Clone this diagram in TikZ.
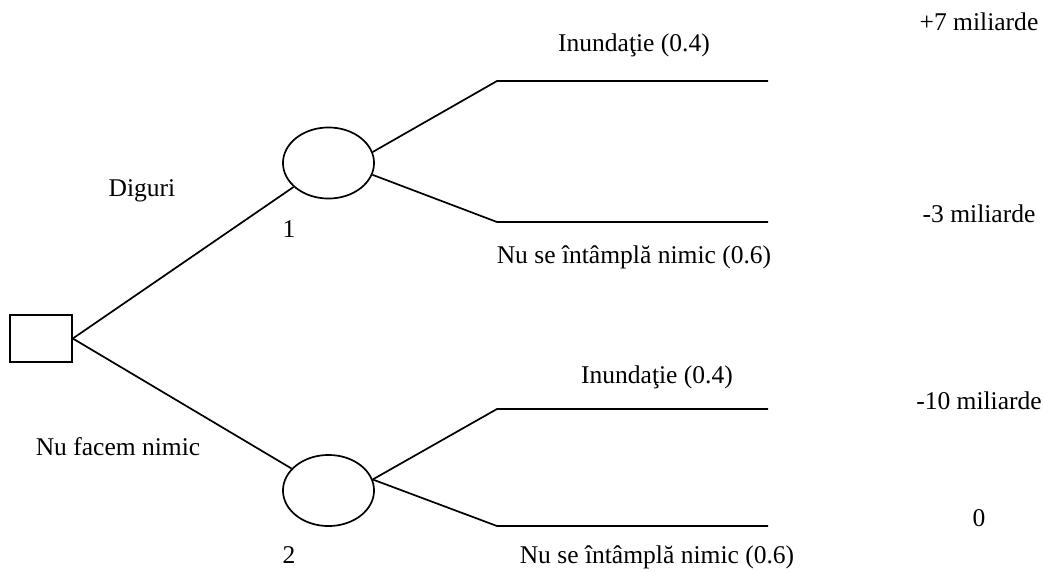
\documentclass[tikz,border=0pt]{standalone}
\usepackage{fontspec}
\setmainfont{Liberation Serif}
\usetikzlibrary{shapes.geometric}

\begin{document}
\begin{tikzpicture}[x=0.47pt, y=-0.47pt, line width=0.8pt,
    every node/.style={font=\fontsize{12}{14}\selectfont, inner sep=0pt},
    decision/.style={draw, rectangle, minimum width=29.1pt, minimum height=22.1pt},
    chance/.style={draw, ellipse, minimum width=42.8pt, minimum height=33.4pt}]

        \useasboundingbox (0,0) rectangle (1044,571);

        % decision and chance nodes
        \node[decision] (dec) at (41,338.5) {};
        \node[chance] (c1) at (328.5,163) {};
        \node[chance] (c2) at (328.5,490.5) {};

        % corners and ends of the branches
        \coordinate (b1) at (497,81);
        \coordinate (e1) at (768,81);
        \coordinate (b2) at (497,222);
        \coordinate (e2) at (768,222);
        \coordinate (b3) at (497,409);
        \coordinate (e3) at (768,409);
        \coordinate (b4) at (497,526);
        \coordinate (e4) at (768,526);

        \draw (dec.east) -- (c1);
        \draw (dec.east) -- (c2);

        \draw (c1.14) -- (b1) -- (e1);
        \draw (c1.-15) -- (b2) -- (e2);
        \draw (c2.14) -- (b3) -- (e3);
        \draw (c2.14) -- (b4) -- (e4);

        % labels
        \node (ldig) at (142,191) {Diguri};
        \node (lnim) at (118,447) {Nu facem nimic};
        \node (l1) at (289,229) {1};
        \node (l2) at (289,555) {2};

        \foreach \n/\x/\y/\txt in {p1/634/45/Inundaţie (0.4), p2/634/257/Nu se întâmplă nimic (0.6),
                                   p3/657/377/Inundaţie (0.4), p4/657/557/Nu se întâmplă nimic (0.6)} {
            \node (\n) at (\x,\y) {\txt};
        }

        \foreach \n/\y/\txt in {v1/22/+7 miliarde, v2/214/-3 miliarde, v3/401/-10 miliarde, v4/518/0} {
            \node (\n) at (979,\y) {\txt};
        }

\end{tikzpicture}
\end{document}
